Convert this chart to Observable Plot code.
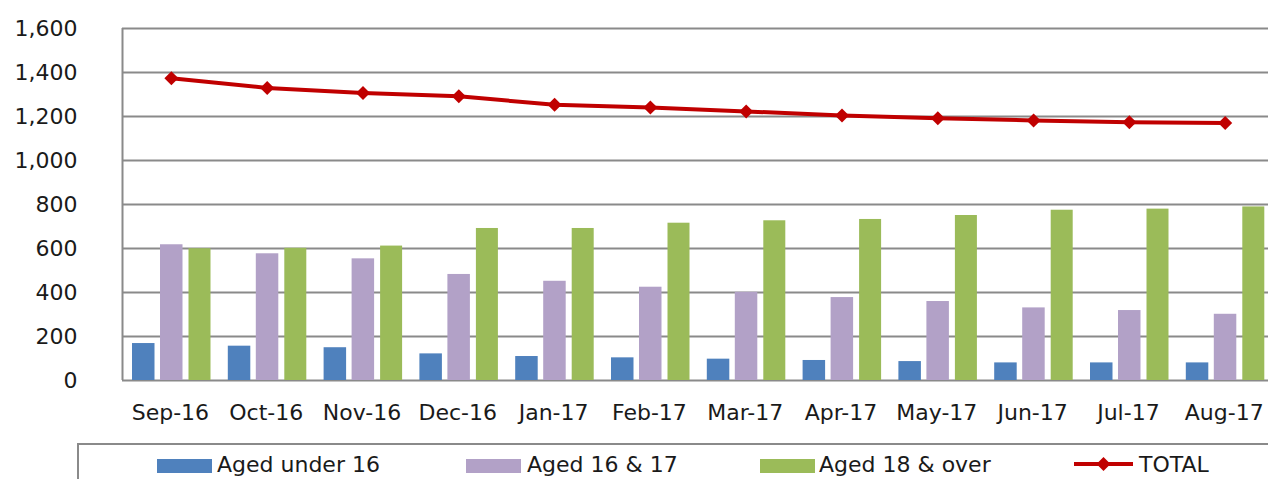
<!DOCTYPE html>
<html>
<head>
<meta charset="utf-8">
<script src="https://cdn.jsdelivr.net/npm/d3@7"></script>
<script src="https://cdn.jsdelivr.net/npm/@observablehq/plot@0.6"></script>
<style>
  html, body { margin: 0; padding: 0; background: #fff; overflow: hidden; }
  #wrap { position: relative; width: 1268px; height: 479px; font-family: "DejaVu Sans", sans-serif; color: #1a1a1a; }
  #legend { position: absolute; left: 77px; top: 443px; width: 1220px; height: 60px;
            border-top: 2px solid #8a8a8a; border-left: 2px solid #8a8a8a; }
  .item { position: absolute; font-size: 22px; line-height: 22px; white-space: nowrap; }
  .sw { position: absolute; width: 55px; height: 14px; }
</style>
</head>
<body>
<div id="wrap"><div id="chart"></div><div id="legend"></div></div>
<script>
const months = ["Sep-16","Oct-16","Nov-16","Dec-16","Jan-17","Feb-17","Mar-17","Apr-17","May-17","Jun-17","Jul-17","Aug-17"];
const under16 = [168, 156, 149, 121, 109, 103, 97, 91, 86, 80, 80, 80];
const aged1617 = [617, 576, 553, 482, 451, 424, 401, 377, 359, 330, 318, 301];
const aged18 = [599, 601, 611, 691, 691, 715, 726, 732, 750, 774, 779, 789];
const total = [1374, 1330, 1307, 1292, 1253, 1241, 1223, 1205, 1192, 1182, 1174, 1170];
const yTicks = [0, 200, 400, 600, 800, 1000, 1200, 1400, 1600];
const seriesNames = ["Aged under 16", "Aged 16 & 17", "Aged 18 & over", "TOTAL"];
const colors = ["#4F81BD", "#B2A1C7", "#9BBB59", "#C00000"];

const rows = months.map((m, i) => ({month: m, under16: under16[i], aged1617: aged1617[i], aged18: aged18[i], total: total[i]}));

const step = 95.8;
const chart = Plot.plot({
  width: 1268,
  height: 443,
  marginTop: 28,
  marginBottom: 63,
  marginLeft: 122,
  marginRight: 0,
  style: {fontFamily: "DejaVu Sans, sans-serif", fontSize: "22px", color: "#1a1a1a", background: "white"},
  x: {type: "band", domain: months, range: [122, 122 + 12 * step], padding: 0, round: false, label: null, axis: null},
  y: {domain: [0, 1600], label: null, axis: null},
  marks: [
    Plot.ruleY(yTicks, {stroke: "#8a8a8a", strokeWidth: 2}),
    Plot.ruleX([months[0]], {x: d => d, dx: -step / 2, y1: 0, y2: 1600, stroke: "#8a8a8a", strokeWidth: 2}),
    Plot.barY(rows, {x: "month", y: "under16", fill: colors[0], insetLeft: 10, insetRight: step - 32.5}),
    Plot.barY(rows, {x: "month", y: "aged1617", fill: colors[1], insetLeft: 38, insetRight: step - 60.5}),
    Plot.barY(rows, {x: "month", y: "aged18", fill: colors[2], insetLeft: 66.5, insetRight: step - 88.5}),
    Plot.line(rows, {x: "month", y: "total", stroke: colors[3], strokeWidth: 4, dx: 1}),
    Plot.dot(rows, {x: "month", y: "total", symbol: "square", r: 5.6, rotate: 45, fill: colors[3], dx: 1}),
    Plot.axisY(yTicks, {anchor: "left", tickSize: 0, tickPadding: 45, fontSize: 22, tickFormat: d3.format(","), label: null}),
    Plot.axisX({anchor: "bottom", tickSize: 0, tickPadding: 24, fontSize: 22, label: null})
  ]
});
document.getElementById("chart").appendChild(chart);

// Legend
const legend = document.getElementById("legend");
const lx = 77, ly = 443;
const items = [
  {sx: 157, tx: 217},
  {sx: 466, tx: 527},
  {sx: 760, tx: 819},
  {sx: 1074, tx: 1139}
];
items.forEach((it, i) => {
  if (i < 3) {
    const sw = document.createElement("div");
    sw.className = "sw";
    sw.style.left = (it.sx - lx - 2) + "px";
    sw.style.top = (459 - ly - 2) + "px";
    sw.style.background = colors[i];
    legend.appendChild(sw);
  } else {
    const ns = "http://www.w3.org/2000/svg";
    const svg = document.createElementNS(ns, "svg");
    svg.setAttribute("width", 60); svg.setAttribute("height", 18);
    svg.style.position = "absolute";
    svg.style.left = (it.sx - lx - 2) + "px";
    svg.style.top = (455 - ly - 2) + "px";
    const ln = document.createElementNS(ns, "line");
    ln.setAttribute("x1", 0); ln.setAttribute("x2", 59); ln.setAttribute("y1", 9); ln.setAttribute("y2", 9);
    ln.setAttribute("stroke", colors[3]); ln.setAttribute("stroke-width", 4);
    svg.appendChild(ln);
    const dm = document.createElementNS(ns, "path");
    dm.setAttribute("d", "M29.5,2 L36.5,9 L29.5,16 L22.5,9 Z");
    dm.setAttribute("fill", colors[3]);
    svg.appendChild(dm);
    legend.appendChild(svg);
  }
  const t = document.createElement("div");
  t.className = "item";
  t.textContent = seriesNames[i];
  t.style.left = (it.tx - lx - 2) + "px";
  t.style.top = (454 - ly - 2) + "px";
  legend.appendChild(t);
});
</script>
</body>
</html>
